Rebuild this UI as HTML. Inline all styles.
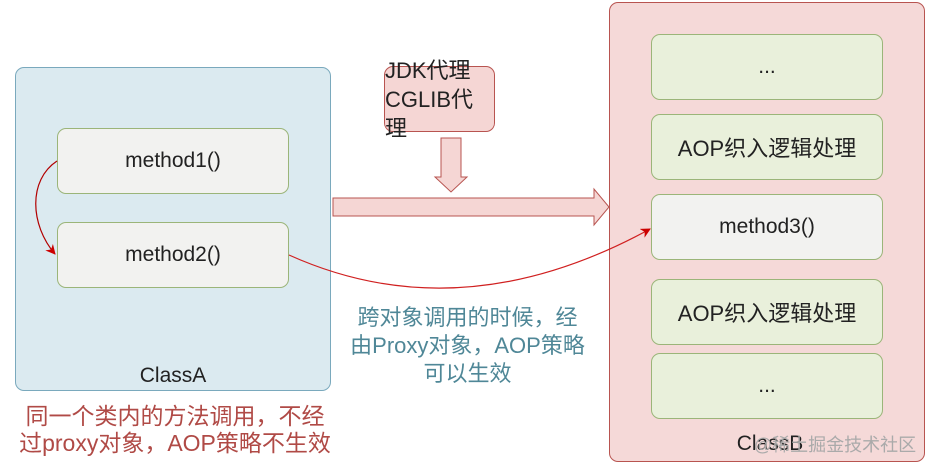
<!DOCTYPE html>
<html><head><meta charset="utf-8"><style>
body{margin:0;width:927px;height:471px;background:#fff;position:relative;overflow:hidden;font-family:"Liberation Sans","Noto Sans CJK SC",sans-serif}
.b{position:absolute;box-sizing:border-box;border-radius:9px;display:flex;align-items:center;justify-content:center;font-size:21px;color:#222}
.t{position:absolute;text-align:center;font-size:21px;line-height:27px}
</style></head><body>
<div class="b" style="left:15px;top:67px;width:316px;height:324px;background:#dbeaf0;border:1px solid #7aa9bd;border-radius:9px"></div>
<div class="b" style="left:57px;top:128px;width:232px;height:66px;background:#f2f2f0;border:1px solid #9bb579">method1()</div>
<div class="b" style="left:57px;top:222px;width:232px;height:66px;background:#f2f2f0;border:1px solid #9bb579">method2()</div>
<div class="t" style="left:15px;top:362px;width:316px;color:#222">ClassA</div>
<div class="t" style="left:5px;top:403px;width:340px;color:#b04a46;font-size:23px;line-height:27px">同一个类内的方法调用，不经<br>过proxy对象，AOP策略不生效</div>
<div class="b" style="left:384px;top:66px;width:111px;height:66px;background:#f5d6d4;border:1px solid #b85450;flex-direction:column;line-height:29px;font-size:22px">JDK代理<br>CGLIB代理</div>
<div class="b" style="left:609px;top:2px;width:316px;height:460px;background:#f5d9d8;border:1px solid #b85450"></div>
<div class="b" style="left:651px;top:34px;width:232px;height:66px;background:#e9f0db;border:1px solid #9bb579">...</div>
<div class="b" style="left:651px;top:114px;width:232px;height:66px;background:#e9f0db;border:1px solid #9bb579;font-size:22px">AOP织入逻辑处理</div>
<div class="b" style="left:651px;top:194px;width:232px;height:66px;background:#f2f2f0;border:1px solid #9bb579">method3()</div>
<div class="b" style="left:651px;top:279px;width:232px;height:66px;background:#e9f0db;border:1px solid #9bb579;font-size:22px">AOP织入逻辑处理</div>
<div class="b" style="left:651px;top:353px;width:232px;height:66px;background:#e9f0db;border:1px solid #9bb579">...</div>
<div class="t" style="left:700px;top:430px;width:140px;color:#222">ClassB</div>
<div class="t" style="left:750px;top:432px;width:170px;color:#aaa;font-size:18px">@稀土掘金技术社区</div>
<div class="t" style="left:330px;top:304px;width:275px;color:#4f8797;font-size:22px;line-height:28px">跨对象调用的时候，经<br>由Proxy对象，AOP策略<br>可以生效</div>
<svg width="927" height="471" style="position:absolute;left:0;top:0">
<defs><marker id="a" markerWidth="10" markerHeight="10" refX="9" refY="5" orient="auto" markerUnits="userSpaceOnUse"><path d="M0,0 L10,5 L0,10 L3,5z" fill="#c00"/></marker></defs>
<polygon points="441,138 461,138 461,177 467,177 451,192 435,177 441,177" fill="#f5d6d4" stroke="#b85450"/>
<polygon points="333,198 594,198 594,189 609,207 594,225 594,216 333,216" fill="#f5d6d4" stroke="#b85450"/>
<path d="M57,161 C28,180 30,225 55,254" fill="none" stroke="#b20000" stroke-width="1.2" marker-end="url(#a)"/>
<path d="M289,255 C400,305 520,300 650,229" fill="none" stroke="#d02020" stroke-width="1.2" marker-end="url(#a)"/>
</svg>
</body></html>
